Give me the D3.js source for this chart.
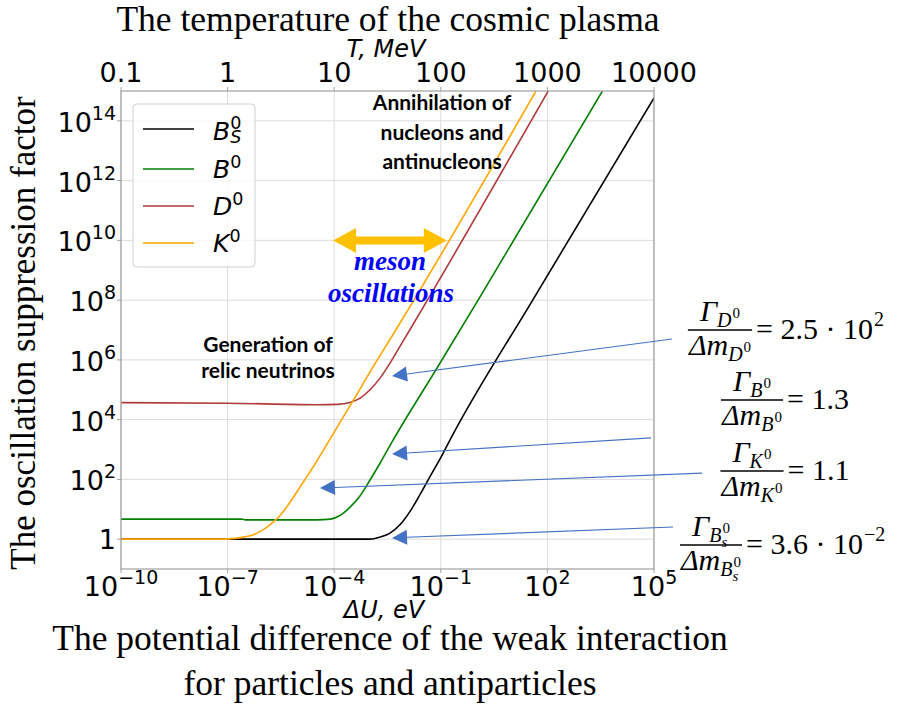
<!DOCTYPE html>
<html><head><meta charset="utf-8">
<script src="https://cdn.jsdelivr.net/npm/d3@7"></script>
<style>body{margin:0;background:#fff}</style>
</head><body>
<svg id="c" width="902" height="711" xmlns="http://www.w3.org/2000/svg"></svg>
<script>
// ---------------- data ----------------
const xTicks = [1e-10, 1e-7, 1e-4, 1e-1, 1e2, 1e5];
const xTickExp = ["−10", "−7", "−4", "−1", "2", "5"];
const yTicks = [1, 1e2, 1e4, 1e6, 1e8, 1e10, 1e12, 1e14];
const yTickExp = ["", "2", "4", "6", "8", "10", "12", "14"];
const tTicks = [0.1, 1, 10, 100, 1000, 10000];
const tTickLabels = ["0.1", "1", "10", "100", "1000", "10000"];

const seriesNames = ["Bs0", "B0", "D0", "K0"];
const seriesColors = ["#000000", "#008000", "#b03a3a", "#ffa500"];

// Bs0 (black)
const bsU = [1e-10, 1.02e-3, 1.95e-3, 3.72e-3, 7.08e-3, 1.35e-2, 2.57e-2, 5.01e-2, 0.117, 0.182, 38.9, 1e5];
const bsF = [1, 1, 1.17, 1.58, 3.02, 8.32, 30.2, 126, 759, 2090, 1.02e8, 5.9e14];
// B0 (green)
const b0U = [1e-10, 2.51e-7, 3.16e-7, 3.16e-5, 7.94e-5, 1.41e-4, 2.75e-4, 5.37e-4, 1.02e-3, 1.95e-3, 4.57e-3, 7.76e-2, 1.26, 3980];
const b0F = [4.68, 4.68, 4.42, 4.42, 4.68, 6.03, 11.5, 28.2, 95.5, 347, 2090, 5.25e5, 1.26e8, 1.26e15];
// D0 (red)
const d0U = [1e-10, 1e-7, 3.16e-5, 1.26e-4, 2.75e-4, 5.37e-4, 1.02e-3, 1.95e-3, 3.72e-3, 7.08e-3, 1.35e-2, 126];
const d0F = [3.72e4, 3.55e4, 3.16e4, 3.24e4, 3.72e4, 5.25e4, 1e5, 2.45e5, 7.76e5, 2.82e6, 1.02e7, 1.45e15];
// K0 (orange)
const k0U = [1e-10, 7.94e-8, 2.24e-7, 4.27e-7, 8.13e-7, 1.55e-6, 2.95e-6, 5.75e-6, 1.10e-5, 2.09e-5, 1.82e-4, 3.47e-4, 1.02e-3, 5.75e-3, 56.2];
const k0F = [1, 1, 1.12, 1.29, 1.78, 3.02, 6.03, 17.4, 56.2, 178, 1.26e4, 4.47e4, 3.98e5, 1.12e7, 1.41e15];

const seriesU = [bsU, b0U, d0U, k0U];
const seriesF = [bsF, b0F, d0F, k0F];

// annotation arrows in data units [dU, F]
const blueArrows = [
  {from: [3.21e5, 5.0e6], to: [4.24e-3, 2.88e5]},
  {from: [8.24e4, 2450], to: [4.24e-3, 708]},
  {from: [2.24e6, 162], to: [3.98e-5, 51.3]},
  {from: [3.43e5, 2.54], to: [4.24e-3, 1.10]}
];
const mesonArrow = {from: 9.3e-5, to: 0.148, F: 1e10};

// ---------------- layout ----------------
const svg = d3.select("#c");
svg.append("rect").attr("width", 902).attr("height", 711).attr("fill", "#fff");
const L = 121, R = 654, T = 91, B = 569;
const x = d3.scaleLog().domain([1e-10, 1e5]).range([L, R]);
const y = d3.scaleLog().domain([1e-1, 1e15]).range([B, T]);
const xt = d3.scaleLog().domain([0.1, 1e4]).range([L, R]);

function mtext(g, x0, y0, parts, anchor) {
  const grp = g.append("g");
  let cx = 0, holdX = null, holdW = 0;
  parts.forEach(p => {
    const xs = holdX !== null ? holdX : cx;
    const t = grp.append("text")
      .attr("x", xs + (p.dx || 0)).attr("y", p.dy || 0)
      .attr("font-family", p.ff || "DejaVu Sans")
      .attr("font-size", p.fs)
      .attr("font-style", p.it ? "italic" : "normal")
      .attr("font-weight", p.fw || "normal")
      .attr("fill", p.fill || "#000")
      .style("white-space", "pre")
      .text(p.t);
    const w = t.node().getComputedTextLength() + (p.dx || 0) + (p.after || 0);
    if (p.hold) { holdX = xs; holdW = Math.max(holdW, w); }
    else { cx = xs + Math.max(w, holdW); holdX = null; holdW = 0; }
  });
  let off = 0;
  if (anchor === "middle") off = -cx / 2;
  if (anchor === "end") off = -cx;
  grp.attr("transform", `translate(${x0 + off},${y0})`);
  return cx;
}

// grid
const grid = svg.append("g");
xTicks.forEach(v => grid.append("line").attr("x1", x(v)).attr("x2", x(v)).attr("y1", T).attr("y2", B)
  .attr("stroke", "#dcdcdc").attr("stroke-width", 1));
yTicks.forEach(v => grid.append("line").attr("x1", L).attr("x2", R).attr("y1", y(v)).attr("y2", y(v))
  .attr("stroke", "#dcdcdc").attr("stroke-width", 1));

// curves
svg.append("clipPath").attr("id", "clip").append("rect")
  .attr("x", L).attr("y", T).attr("width", R - L).attr("height", B - T);
const line = d3.line().x(d => x(d[0])).y(d => y(d[1])).curve(d3.curveMonotoneX);
const curves = svg.append("g").attr("clip-path", "url(#clip)");
seriesNames.forEach((n, i) => {
  const pts = seriesU[i].map((u, j) => [u, seriesF[i][j]]);
  curves.append("path").attr("d", line(pts)).attr("fill", "none")
    .attr("stroke", seriesColors[i]).attr("stroke-width", 1.6);
});

// spines
const sp = svg.append("g").attr("stroke", "#a0a0a0").attr("stroke-width", 1.2).attr("fill", "none");
sp.append("rect").attr("x", L).attr("y", T).attr("width", R - L).attr("height", B - T);

// ticks
const tk = svg.append("g").attr("stroke", "#a0a0a0").attr("stroke-width", 1);
xTicks.forEach(v => tk.append("line").attr("x1", x(v)).attr("x2", x(v)).attr("y1", B).attr("y2", B + 4));
tTicks.forEach(v => tk.append("line").attr("x1", xt(v)).attr("x2", xt(v)).attr("y1", T).attr("y2", T - 4));
yTicks.forEach(v => tk.append("line").attr("x1", L - 4).attr("x2", L).attr("y1", y(v)).attr("y2", y(v)));

// tick labels
const tl = svg.append("g");
xTicks.forEach((v, i) => mtext(tl, x(v), 596, [
  {t: "10", fs: 27}, {t: xTickExp[i], fs: 19, dy: -12}], "middle"));
tTicks.forEach((v, i) => mtext(tl, xt(v), 82, [{t: tTickLabels[i], fs: 27}], "middle"));
yTicks.forEach((v, i) => {
  if (yTickExp[i] === "") mtext(tl, 116, y(v) + 10, [{t: "1", fs: 27}], "end");
  else mtext(tl, 116, y(v) + 11, [{t: "10", fs: 27}, {t: yTickExp[i], fs: 19, dy: -12}], "end");
});

// axis labels
mtext(svg, 386, 57, [{t: "T, MeV", fs: 24, it: true}], "middle");
mtext(svg, 384, 618, [{t: "ΔU, eV", fs: 24, it: true}], "middle");

// titles
const serif = "Liberation Serif";
svg.append("text").attr("x", 388).attr("y", 31).attr("text-anchor", "middle")
  .attr("font-family", serif).attr("font-size", 35.5).text("The temperature of the cosmic plasma");
svg.append("text").attr("x", 390).attr("y", 650).attr("text-anchor", "middle")
  .attr("font-family", serif).attr("font-size", 35.5).text("The potential difference of the weak interaction");
svg.append("text").attr("x", 390).attr("y", 695).attr("text-anchor", "middle")
  .attr("font-family", serif).attr("font-size", 35.5).text("for particles and antiparticles");
svg.append("text").attr("transform", "translate(35,333) rotate(-90)").attr("text-anchor", "middle")
  .attr("font-family", serif).attr("font-size", 35).text("The oscillation suppression factor");

// legend
const lg = svg.append("g");
lg.append("rect").attr("x", 133).attr("y", 104).attr("width", 122).attr("height", 163).attr("rx", 4)
  .attr("fill", "#fff").attr("fill-opacity", 0.8).attr("stroke", "#d0d0d0");
const legY = [129, 169, 206, 243];
const legParts = [
  [{t: "B", fs: 25, it: true}, {t: "0", fs: 17.5, dy: -11, hold: true}, {t: "S", fs: 17.5, it: true, dy: 3}],
  [{t: "B", fs: 25, it: true}, {t: "0", fs: 17.5, dy: -10}],
  [{t: "D", fs: 25, it: true}, {t: "0", fs: 17.5, dy: -10}],
  [{t: "K", fs: 25, it: true}, {t: "0", fs: 17.5, dy: -10}]
];
seriesNames.forEach((n, i) => {
  lg.append("line").attr("x1", 143).attr("x2", 194).attr("y1", legY[i]).attr("y2", legY[i])
    .attr("stroke", seriesColors[i]).attr("stroke-width", 1.6);
  mtext(lg, 213, legY[i] + (i === 0 ? 11 : 9), legParts[i], "start");
});

// annotation texts
const ann = svg.append("g");
const sans = "Lato";
[["Annihilation of", 110], ["nucleons and", 140], ["antinucleons", 169]].forEach(d =>
  ann.append("text").attr("x", 442).attr("y", d[1]).attr("text-anchor", "middle")
    .attr("font-family", sans).attr("font-weight", "bold").attr("font-size", 21).text(d[0]));
[["Generation of", 352], ["relic neutrinos", 378]].forEach(d =>
  ann.append("text").attr("x", 268).attr("y", d[1]).attr("text-anchor", "middle")
    .attr("font-family", sans).attr("font-weight", "bold").attr("font-size", 21).text(d[0]));
[["meson", 270, 390], ["oscillations", 302, 391]].forEach(d =>
  ann.append("text").attr("x", d[2]).attr("y", d[1]).attr("text-anchor", "middle")
    .attr("font-family", serif).attr("font-weight", "bold").attr("font-style", "italic")
    .attr("font-size", 27).attr("fill", "#0000ff").text(d[0]));

// orange double arrow
{
  const x1 = x(mesonArrow.from), x2 = x(mesonArrow.to), yy = y(mesonArrow.F);
  const hl = 23, hh = 12.5, sh = 4;
  const pts = [[x1, yy], [x1 + hl, yy - hh], [x1 + hl, yy - sh], [x2 - hl, yy - sh], [x2 - hl, yy - hh],
    [x2, yy], [x2 - hl, yy + hh], [x2 - hl, yy + sh], [x1 + hl, yy + sh], [x1 + hl, yy + hh]];
  ann.append("polygon").attr("points", pts.map(p => p.join(",")).join(" ")).attr("fill", "#ffc000");
}

// blue arrows
blueArrows.forEach(a => {
  const fx = x(a.from[0]), fy = y(a.from[1]), tx = x(a.to[0]), ty = y(a.to[1]);
  const dx = tx - fx, dy = ty - fy, len = Math.hypot(dx, dy);
  const ux = dx / len, uy = dy / len, hl = 15, hw = 7.5;
  const bx = tx - ux * hl, by = ty - uy * hl;
  ann.append("line").attr("x1", fx).attr("y1", fy).attr("x2", bx).attr("y2", by)
    .attr("stroke", "#4472c4").attr("stroke-width", 1.1);
  ann.append("polygon").attr("points",
    [[tx, ty], [bx - uy * hw, by + ux * hw], [bx + uy * hw, by - ux * hw]].map(p => p.join(",")).join(" "))
    .attr("fill", "#4472c4");
});

// formulas
const fm = svg.append("g");
const FS = 30, SS = 20, SSS = 15;
function sub(letter, subs) {
  const r = [{t: letter, fs: SS, it: true, dy: 6, ff: serif}];
  if (subs) {
    r.push({t: "0", fs: SSS, dy: -3, ff: serif, hold: true, dx: 1});
    r.push({t: subs, fs: SSS, it: true, dy: 11, ff: serif});
  } else {
    r.push({t: "0", fs: SSS, dy: -3, ff: serif, dx: 1});
  }
  return r;
}
const formulas = [
  {cx: 720, by: 330, L: "D", s: null, rhs: [{t: "= 2.5 · 10", fs: FS, ff: serif}, {t: "2", fs: SS, dy: -13, ff: serif, dx: 1}]},
  {cx: 752, by: 400, L: "B", s: null, rhs: [{t: "= 1.3", fs: FS, ff: serif}]},
  {cx: 752, by: 471, L: "K", s: null, rhs: [{t: "= 1.1", fs: FS, ff: serif}]},
  {cx: 711, by: 545, L: "B", s: "s", rhs: [{t: "= 3.6 · 10", fs: FS, ff: serif}, {t: "−2", fs: SS, dy: -13, ff: serif, dx: 1}]}
];
formulas.forEach(f => {
  const num = [{t: "Γ", fs: FS, it: true, ff: serif}].concat(sub(f.L, f.s));
  const den = [{t: "Δm", fs: FS, it: true, ff: serif}].concat(sub(f.L, f.s));
  const wn = mtext(fm, f.cx, f.by - 9, num, "middle");
  const wd = mtext(fm, f.cx, f.by + 25, den, "middle");
  const w = Math.max(wn, wd) + 2;
  fm.append("line").attr("x1", f.cx - w / 2).attr("x2", f.cx + w / 2).attr("y1", f.by).attr("y2", f.by)
    .attr("stroke", "#000").attr("stroke-width", 1.3);
  mtext(fm, f.cx + w / 2 + 4, f.by + 9, f.rhs, "start");
});
</script>
</body></html>
